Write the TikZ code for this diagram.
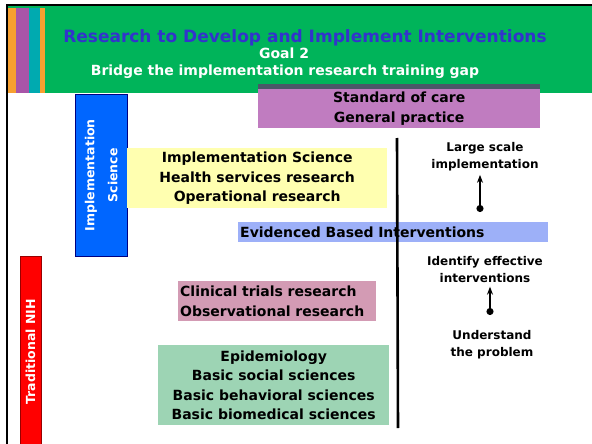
\documentclass[tikz,border=0pt]{standalone}
\usepackage{fontspec}
\setmainfont{DejaVu Sans}
\usetikzlibrary{arrows.meta}
\definecolor{hdrgreen}{HTML}{00B45A}
\definecolor{stripeorange}{HTML}{F7A030}
\definecolor{stripepurple}{HTML}{A855A8}
\definecolor{stripeteal}{HTML}{00AAB0}
\definecolor{titleblue}{HTML}{3333CC}
\definecolor{implblue}{HTML}{0066FF}
\definecolor{carepurple}{HTML}{C07CC0}
\definecolor{caretop}{HTML}{4A5868}
\definecolor{opsyellow}{HTML}{FFFFB0}
\definecolor{ebiblue}{HTML}{9DB0F8}
\definecolor{trialpink}{HTML}{D39BB4}
\definecolor{basegreen}{HTML}{9DD4B4}

\begin{document}
\begin{tikzpicture}[x=1pt,y=-1pt,
  box/.style={anchor=north west,inner sep=0pt,align=center,
    font=\bfseries\fontsize{14}{19.5}\selectfont},
  side/.style={rotate=90,align=center,text=white,
    font=\bfseries\fontsize{12.5}{23}\selectfont},
  lbl/.style={align=center,font=\bfseries\fontsize{12}{17}\selectfont},
  stagearrow/.style={{Circle[length=7pt]}-{Stealth[length=8pt,width=6pt]},line width=1.6pt}]
  \useasboundingbox (0,0) rectangle (592,444);
  \fill[white] (0,0) rectangle (592,444);
  % header band and stripes
  \fill[hdrgreen] (7,5) rectangle (592,93);
  \fill[stripeorange] (8,8) rectangle (16,93);
  \fill[stripepurple] (16,8) rectangle (29,93);
  \fill[stripeteal] (29,8) rectangle (40,93);
  \fill[stripeorange] (40,8) rectangle (45,93);
  \draw[line width=2pt] (7,444) -- (7,5) -- (592,5);
  \node[text=titleblue,font=\bfseries\fontsize{17}{20}\selectfont] (title) at (305,38) {Research to Develop and Implement Interventions};
  \node[text=white,font=\bfseries\fontsize{14}{15}\selectfont] (goal) at (284,53) {Goal 2};
  \node[text=white,font=\bfseries\fontsize{14}{15}\selectfont] (gap) at (285,72) {Bridge the implementation research training gap};
  % columns on the left
  \node[box,fill=implblue,draw=blue!50!black,minimum width=52pt,minimum height=162pt] (implbox) at (75,94) {};
  \node[side] (impl) at (implbox.center) {Implementation\\Science};
  \node[box,fill=red,draw=red!60!black,minimum width=21pt,minimum height=190pt] (nihbox) at (20,256) {};
  \node[side] at (30.5,352) (nih) {Traditional NIH};
  % research boxes
  \node[box,fill=carepurple,minimum width=282pt,minimum height=39pt] (care) at (258,89) {Standard of care\\General practice};
  \fill[caretop] (care.north west) rectangle ([yshift=5pt]care.north east);
  \node[box,fill=opsyellow,minimum width=260pt,minimum height=60pt] (ops) at (127,148) {Implementation Science\\Health services research\\Operational research};
  \node[box,fill=ebiblue,minimum width=310pt,minimum height=20pt,align=left,text width=306pt,inner xsep=2pt] (ebi) at (238,222) {Evidenced Based Interventions};
  \node[box,fill=trialpink,minimum width=198pt,minimum height=40pt,align=left,text width=194pt,inner xsep=2pt] (trials) at (178,281) {Clinical trials research\\Observational research};
  \node[box,fill=basegreen,minimum width=231pt,minimum height=80pt] (basic) at (158,345) {Epidemiology\\Basic social sciences\\Basic behavioral sciences\\Basic biomedical sciences};
  % divider and stages
  \coordinate (divtop) at (397,138);
  \coordinate (divbot) at (398,428);
  \draw[line width=2.6pt] (divtop) -- (divbot);
  \node[lbl] (large) at (485,157) {Large scale\\implementation};
  \coordinate (largedot) at (480,212);
  \draw[stagearrow] (largedot) -- (large.south -| largedot);
  \node[lbl] (identify) at (485,270) {Identify effective\\interventions};
  \coordinate (identdot) at (490,315);
  \node[lbl] (problem) at (492,345) {Understand\\the problem};
  \draw[stagearrow] (identdot) -- (identify.south -| identdot);
\end{tikzpicture}
\end{document}
